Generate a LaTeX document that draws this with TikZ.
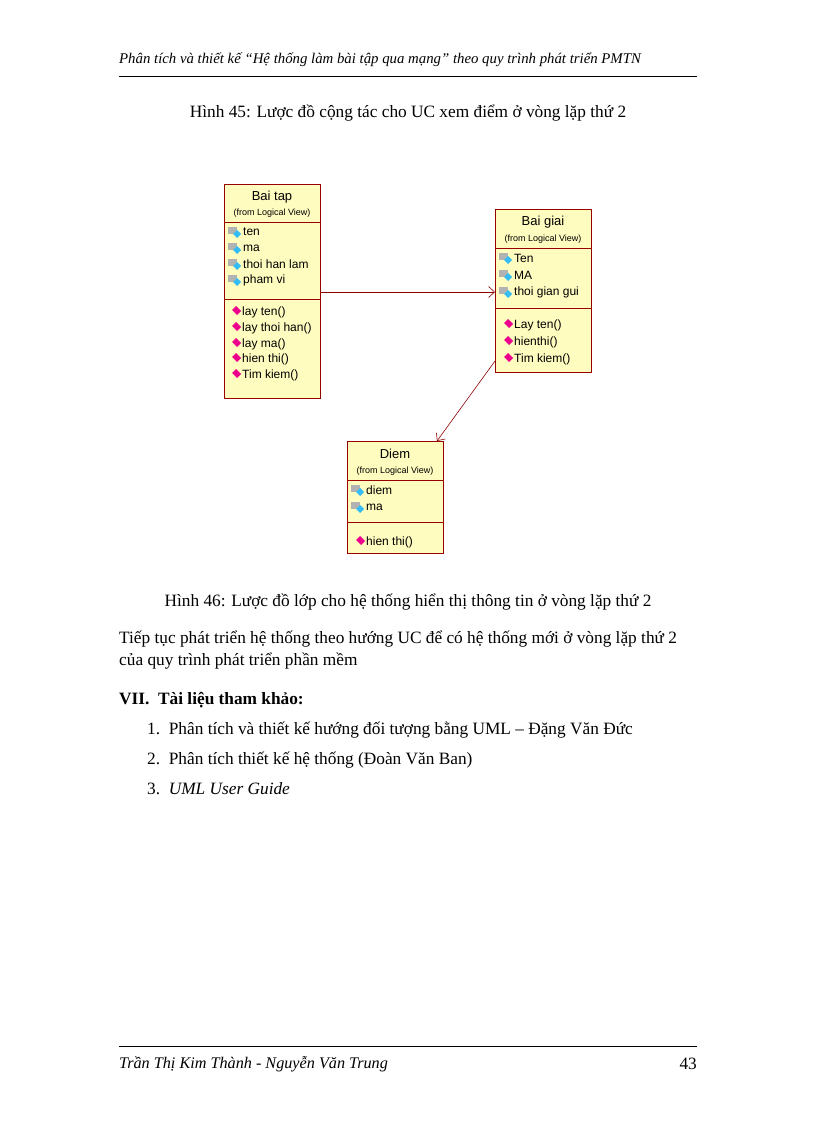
\documentclass[tikz,border=0pt]{standalone}
\usepackage{fontspec}
\setmainfont{Liberation Serif}
\newfontfamily\uml{Liberation Sans}
\usetikzlibrary{calc,arrows.meta}
\begin{document}
\begin{tikzpicture}[x=1pt,y=-1pt,
  cls/.style={draw=red!60!black,fill=yellow!25,line width=0.8pt},
  sep/.style={draw=red!60!black,line width=0.8pt},
  it/.style={anchor=west,inner sep=0pt,font=\uml\fontsize{12}{13}\selectfont},
  tt/.style={anchor=center,inner sep=0pt,font=\uml\fontsize{13}{14}\selectfont},
  fr/.style={anchor=center,inner sep=0pt,font=\uml\fontsize{9}{10}\selectfont},
  body/.style={anchor=west,inner sep=0pt,font=\fontsize{17.3}{19}\selectfont},
  conn/.style={draw=red!55!black,line width=0.6pt,-{Straight Barb[length=6pt,width=11pt]}}]
\useasboundingbox (0,0) rectangle (816,1123);
\newcommand\attr[2]{%
  \fill[gray!60] ($(#1)+(0,-5)$) rectangle ++(9,7);
  \fill[cyan!80] ($(#1)+(5,2)$) -- ++(4,-4) -- ++(4,4) -- ++(-4,4) -- cycle;
  \node[it] at ($(#1)+(15,0)$) {#2};}
\newcommand\oper[2]{%
  \fill[magenta] ($(#1)+(4,-6)$) -- ++(5,5) -- ++(-4,4) -- ++(-5,-5) -- cycle;
  \node[it] at ($(#1)+(10,0)$) {#2};}
\node[body,font=\itshape\fontsize{14.8}{16}\selectfont] (hd) at (119,60) {Phân tích và thiết kế “Hệ thống làm bài tập qua mạng” theo quy trình phát triển PMTN};
\draw (119,76) -- (697,76);
\node[anchor=center,inner sep=0pt,font=\fontsize{17.3}{19}\selectfont] (c45) at (408,113) {Hình 45: Lược đồ cộng tác cho UC xem điểm ở vòng lặp thứ 2};
% Bai tap
\draw[cls] (224,184) rectangle (320,398);
\draw[sep] (224,222) -- (320,222) (224,299) -- (320,299);
\node[tt] (bt) at (272,197) {Bai tap};
\node[fr] at (272,213) {(from Logical View)};
\attr{228,232}{ten}\attr{228,248}{ma}\attr{228,264}{thoi han lam}\attr{228,280}{pham vi}
\oper{232,312}{lay ten()}\oper{232,328}{lay thoi han()}\oper{232,344}{lay ma()}\oper{232,359}{hien thi()}\oper{232,375}{Tim kiem()}
% Bai giai
\draw[cls] (495,209) rectangle (591,372);
\draw[sep] (495,248) -- (591,248) (495,308) -- (591,308);
\node[tt] (bg) at (543,222) {Bai giai};
\node[fr] at (543,239) {(from Logical View)};
\attr{499,258}{Ten}\attr{499,275}{MA}\attr{499,292}{thoi gian gui}
\oper{504,325}{Lay ten()}\oper{504,342}{hienthi()}\oper{504,359}{Tim kiem()}
% Diem
\draw[cls] (347,441) rectangle (443,553);
\draw[sep] (347,480) -- (443,480) (347,522) -- (443,522);
\node[tt] (dm) at (395,454) {Diem};
\node[fr] at (395,471) {(from Logical View)};
\attr{351,490}{diem}\attr{351,507}{ma}
\oper{356,542}{hien thi()}
\coordinate (a1) at (321,292); \coordinate (a2) at (495,292);
\coordinate (b1) at (495,361); \coordinate (b2) at (437,441);
\draw[conn] (a1) -- (a2);
\draw[conn] (b1) -- (b2);
\node[anchor=center,inner sep=0pt,font=\fontsize{17.3}{19}\selectfont] (c46) at (408,602) {Hình 46: Lược đồ lớp cho hệ thống hiển thị thông tin ở vòng lặp thứ 2};
\node[body] (p1) at (119,639) {Tiếp tục phát triển hệ thống theo hướng UC để có hệ thống mới ở vòng lặp thứ 2};
\node[body] (p2) at (119,661) {của quy trình phát triển phần mềm};
\node[body,font=\bfseries\fontsize{17.3}{19}\selectfont] (h7) at (119,700) {VII.\ \ Tài liệu tham khảo:};
\node[body] (r1) at (147,730) {1.\ \ Phân tích và thiết kế hướng đối tượng bằng UML – Đặng Văn Đức};
\node[body] (r2) at (147,760) {2.\ \ Phân tích thiết kế hệ thống (Đoàn Văn Ban)};
\node[body] (r3) at (147,789) {3.\ \ \textit{UML User Guide}};
\draw (119,1046) -- (697,1046);
\node[body,font=\itshape\fontsize{16.2}{18}\selectfont] (ft) at (119,1064) {Trần Thị Kim Thành - Nguyễn Văn Trung};
\node[anchor=east,inner sep=0pt,font=\fontsize{17.3}{19}\selectfont] (pg) at (697,1064) {43};
\end{tikzpicture}
\end{document}
